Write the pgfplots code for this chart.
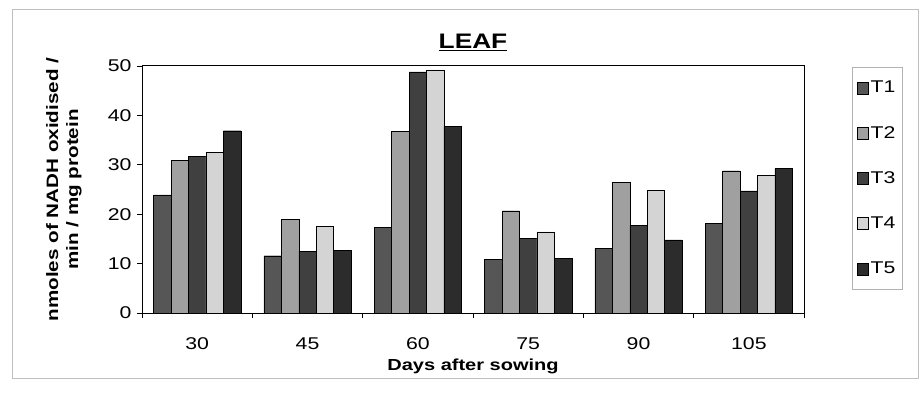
\documentclass[border=0pt]{standalone}
\usepackage{fontspec}
\setmainfont[FakeStretch=1.25]{Liberation Sans}
\usepackage{pgfplots}
\pgfplotsset{compat=1.18}
\definecolor{cA}{HTML}{565656}
\definecolor{cB}{HTML}{A0A0A0}
\definecolor{cC}{HTML}{404040}
\definecolor{cD}{HTML}{D4D4D4}
\definecolor{cE}{HTML}{2C2C2C}
\begin{document}
\begin{tikzpicture}[x=1bp,y=1bp]
\path[use as bounding box] (0,0) rectangle (923,392);
\draw[black!25, line width=1bp] (12,14) rectangle (918,382);
\begin{axis}[
  at={(142bp,79bp)}, anchor=south west,
  scale only axis, width=662bp, height=247bp,
  xmin=-0.5, xmax=5.5, ymin=0, ymax=50,
  ytick={0,10,...,50},
  xtick={-0.5,0.5,...,5.5}, xticklabels={},
  extra x ticks={0,1,2,3,4,5},
  extra x tick labels={30,45,60,75,90,105},
  extra x tick style={tick style={draw=none}, xticklabel style={yshift=-16bp}},
  xtick pos=bottom, ytick pos=left,
  tick align=outside,
  major tick length=5bp,
  tick style={black, line width=0.8bp},
  axis line style={line width=1bp},
  /pgf/number format/assume math mode=true,
  tick label style={font=\fontsize{17bp}{20bp}\selectfont},
  yticklabel style={xshift=-2bp},
  title={\underline{LEAF}},
  title style={font=\bfseries\fontsize{21bp}{24bp}\selectfont, at={(0.5,1)}, anchor=south, yshift=6bp},
  xlabel={Days after sowing},
  xlabel style={font=\bfseries\fontsize{16bp}{19bp}\selectfont, at={(axis description cs:0.5,-0.218)}, anchor=center},
  ylabel={nmoles of NADH oxidised /\\min / mg protein},
  ylabel style={font=\bfseries\fontsize{16.5bp}{20bp}\selectfont, align=center, at={(axis description cs:-0.118,0.5)}, anchor=center},
  legend style={at={(rel axis cs:1.0725,0.996)}, anchor=north west, draw=black!30,
    font=\fontsize{17bp}{19bp}\selectfont, row sep=28bp, inner xsep=5bp, inner ysep=12bp},
  legend cell align=left,
  legend image code/.code={\draw[#1] (0bp,-6bp) rectangle (11bp,6bp);},
]
\addplot[ybar, bar width=0.158, bar shift=-0.316, fill=cA, draw=black]
  coordinates {(0,23.9) (1,11.6) (2,17.4) (3,10.8) (4,13.1) (5,18.2)};
\addplot[ybar, bar width=0.158, bar shift=-0.158, fill=cB, draw=black]
  coordinates {(0,30.9) (1,19.0) (2,36.8) (3,20.7) (4,26.4) (5,28.8)};
\addplot[ybar, bar width=0.158, bar shift=0, fill=cC, draw=black]
  coordinates {(0,31.7) (1,12.5) (2,48.8) (3,15.1) (4,17.8) (5,24.7)};
\addplot[ybar, bar width=0.158, bar shift=0.158, fill=cD, draw=black]
  coordinates {(0,32.5) (1,17.6) (2,49.2) (3,16.4) (4,24.8) (5,27.8)};
\addplot[ybar, bar width=0.158, bar shift=0.316, fill=cE, draw=black]
  coordinates {(0,36.9) (1,12.7) (2,37.8) (3,11.1) (4,14.8) (5,29.3)};
\legend{T1,T2,T3,T4,T5}
\end{axis}
\end{tikzpicture}
\end{document}
